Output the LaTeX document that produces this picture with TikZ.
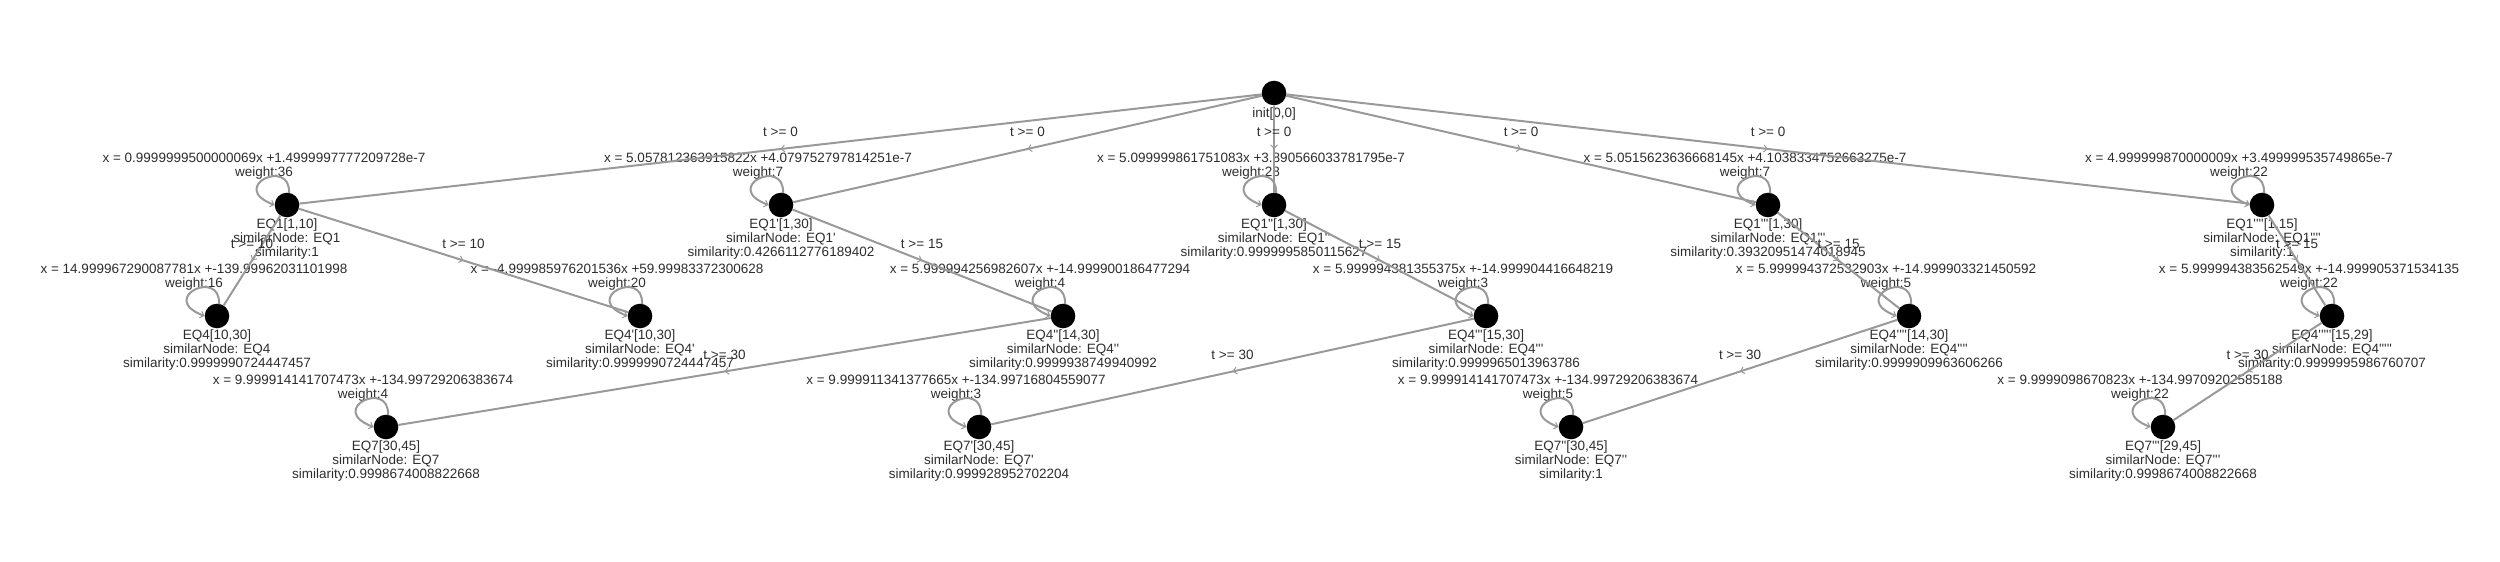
\documentclass[tikz,border=0pt]{standalone}
\usepackage{fontspec}
\newfontfamily\labfont{Liberation Sans}
\usetikzlibrary{arrows.meta,decorations.markings}
\definecolor{edgegray}{RGB}{153,153,153}
\definecolor{txtcol}{RGB}{45,45,45}
\tikzset{
  vtx/.style={circle, fill=black, draw=none, minimum size=24.6pt, inner sep=0pt},
  lbl/.style={font=\labfont\fontsize{13.5}{14}\selectfont, text=txtcol, align=center, inner sep=0pt},
  elab/.style={font=\labfont\fontsize{13.5}{14}\selectfont, text=txtcol, inner sep=0pt},
  edgeline/.style={draw=edgegray, line width=2pt, postaction={decorate},
    decoration={markings, mark=at position 0.5 with {\arrow{Straight Barb[length=3.5pt,width=7pt,line width=1pt]}}}},
  loopedge/.style={draw=edgegray, line width=2pt, -{Straight Barb[length=3.5pt,width=7pt,line width=1pt]}}
}
% name, x, y, line1, line2, line3, equation, weight
\newcommand\mkvtx[8]{%
  \node[vtx] (#1) at (#2,#3) {};
  \node[lbl, anchor=north] (#1-l) at ([shift={(0,14)}]#1.center) {#4\\#5\\#6};
  \node[lbl, anchor=south] (#1-w) at ([shift={(-23,-25.3)}]#1.center) {#7\\weight:#8};
  \draw[loopedge] ([shift={(2,-12)}]#1.center) .. controls ([shift={(4,-48)}]#1.center) and ([shift={(-60,-18)}]#1.center) .. ([shift={(-12.5,0)}]#1.center);
}
\begin{document}
\begin{tikzpicture}[x=1pt,y=-1pt]
\useasboundingbox (0,0) rectangle (2500,562);
\node[vtx] (init) at (1274,93) {};
\node[lbl, anchor=north] (init-l) at ([shift={(0,15)}]init.center) {init[0,0]};

\mkvtx{a1}{287}{205}{EQ1[1,10]}{similarNode: EQ1}{similarity:1}{x = 0.9999999500000069x +1.4999997777209728e-7}{36}
\mkvtx{a2}{781}{205}{EQ1'[1,30]}{similarNode: EQ1'}{similarity:0.4266112776189402}{x = 5.057812363915822x +4.079752797814251e-7}{7}
\mkvtx{a3}{1274}{205}{EQ1''[1,30]}{similarNode: EQ1''}{similarity:0.9999995850115627}{x = 5.099999861751083x +3.890566033781795e-7}{28}
\mkvtx{a4}{1768}{205}{EQ1'''[1,30]}{similarNode: EQ1'''}{similarity:0.39320951474018945}{x = 5.0515623636668145x +4.1038334752663275e-7}{7}
\mkvtx{a5}{2262}{205}{EQ1''''[1,15]}{similarNode: EQ1''''}{similarity:1}{x = 4.999999870000009x +3.499999535749865e-7}{22}

\mkvtx{b1}{217}{316}{EQ4[10,30]}{similarNode: EQ4}{similarity:0.9999990724447457}{x = 14.999967290087781x +-139.99962031101998}{16}
\mkvtx{b2}{640}{316}{EQ4'[10,30]}{similarNode: EQ4'}{similarity:0.9999990724447457}{x = -4.999985976201536x +59.99983372300628}{20}
\mkvtx{b3}{1063}{316}{EQ4''[14,30]}{similarNode: EQ4''}{similarity:0.9999938749940992}{x = 5.999994256982607x +-14.999900186477294}{4}
\mkvtx{b4}{1486}{316}{EQ4'''[15,30]}{similarNode: EQ4'''}{similarity:0.9999965013963786}{x = 5.999994381355375x +-14.999904416648219}{3}
\mkvtx{b5}{1909}{316}{EQ4''''[14,30]}{similarNode: EQ4''''}{similarity:0.9999909963606266}{x = 5.999994372532903x +-14.999903321450592}{5}
\mkvtx{b6}{2332}{316}{EQ4'''''[15,29]}{similarNode: EQ4'''''}{similarity:0.9999995986760707}{x = 5.999994383562549x +-14.999905371534135}{22}

\mkvtx{c1}{386}{427}{EQ7[30,45]}{similarNode: EQ7}{similarity:0.9998674008822668}{x = 9.999914141707473x +-134.99729206383674}{4}
\mkvtx{c2}{979}{427}{EQ7'[30,45]}{similarNode: EQ7'}{similarity:0.999928952702204}{x = 9.999911341377665x +-134.99716804559077}{3}
\mkvtx{c3}{1571}{427}{EQ7''[30,45]}{similarNode: EQ7''}{similarity:1}{x = 9.999914141707473x +-134.99729206383674}{5}
\mkvtx{c4}{2163}{427}{EQ7'''[29,45]}{similarNode: EQ7'''}{similarity:0.9998674008822668}{x = 9.9999098670823x +-134.99709202585188}{22}

\draw[edgeline] (init) -- (a1) node[elab, midway, yshift=17pt] {t >= 0};
\draw[edgeline] (init) -- (a2) node[elab, midway, yshift=17pt] {t >= 0};
\draw[edgeline] (init) -- (a3) node[elab, midway, yshift=17pt] {t >= 0};
\draw[edgeline] (init) -- (a4) node[elab, midway, yshift=17pt] {t >= 0};
\draw[edgeline] (init) -- (a5) node[elab, midway, yshift=17pt] {t >= 0};

\draw[edgeline] (a1) -- (b1) node[elab, midway, yshift=17pt] {t >= 10};
\draw[edgeline] (a1) -- (b2) node[elab, midway, yshift=17pt] {t >= 10};
\draw[edgeline] (a2) -- (b3) node[elab, midway, yshift=17pt] {t >= 15};
\draw[edgeline] (a3) -- (b4) node[elab, midway, yshift=17pt] {t >= 15};
\draw[edgeline] (a4) -- (b5) node[elab, midway, yshift=17pt] {t >= 15};
\draw[edgeline] (a5) -- (b6) node[elab, midway, yshift=17pt] {t >= 15};

\draw[edgeline] (b3) -- (c1) node[elab, midway, yshift=17pt] {t >= 30};
\draw[edgeline] (b4) -- (c2) node[elab, midway, yshift=17pt] {t >= 30};
\draw[edgeline] (b5) -- (c3) node[elab, midway, yshift=17pt] {t >= 30};
\draw[edgeline] (b6) -- (c4) node[elab, midway, yshift=17pt] {t >= 30};
\end{tikzpicture}
\end{document}
